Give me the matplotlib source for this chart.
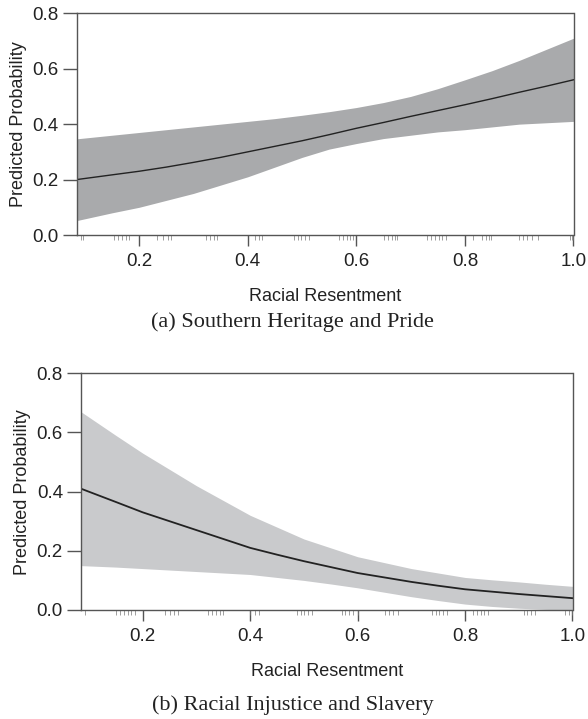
import numpy as np
import matplotlib
matplotlib.use("Agg")
import matplotlib.pyplot as plt
import matplotlib.transforms as mtransforms

# racial resentment grid
grid = [0.085, 0.15, 0.2, 0.25, 0.3, 0.35, 0.4, 0.45, 0.5, 0.55,
        0.6, 0.65, 0.7, 0.75, 0.8, 0.85, 0.9, 0.95, 1.0]

# panel (a) Southern Heritage and Pride
a_fit = [0.20, 0.217, 0.23, 0.245, 0.262, 0.28, 0.30, 0.32, 0.34, 0.362,
         0.385, 0.406, 0.428, 0.449, 0.47, 0.492, 0.515, 0.537, 0.56]
a_upper = [0.347, 0.36, 0.37, 0.38, 0.39, 0.40, 0.41, 0.42, 0.432, 0.445,
           0.46, 0.478, 0.50, 0.528, 0.56, 0.593, 0.63, 0.67, 0.71]
a_lower = [0.052, 0.08, 0.10, 0.125, 0.15, 0.18, 0.21, 0.245, 0.28, 0.31,
           0.33, 0.348, 0.36, 0.372, 0.38, 0.39, 0.40, 0.405, 0.41]
a_rug = [0.092, 0.097, 0.154, 0.161, 0.168, 0.175, 0.182, 0.233, 0.244, 0.254,
         0.258, 0.323, 0.330, 0.337, 0.344, 0.413, 0.420, 0.427, 0.486, 0.492,
         0.499, 0.506, 0.513, 0.568, 0.575, 0.582, 0.589, 0.593, 0.651, 0.658,
         0.665, 0.672, 0.675, 0.731, 0.738, 0.745, 0.752, 0.758, 0.765, 0.814,
         0.831, 0.838, 0.845, 0.848, 0.900, 0.907, 0.914, 0.924, 0.934, 0.993,
         0.997, 1.0]

# panel (b) Racial Injustice and Slavery
b_fit = [0.41, 0.365, 0.33, 0.30, 0.27, 0.24, 0.21, 0.187, 0.165, 0.145,
         0.125, 0.11, 0.095, 0.082, 0.07, 0.062, 0.054, 0.047, 0.04]
b_upper = [0.67, 0.59, 0.53, 0.475, 0.42, 0.37, 0.32, 0.28, 0.24, 0.21,
           0.18, 0.16, 0.14, 0.125, 0.11, 0.102, 0.095, 0.087, 0.08]
b_lower = [0.15, 0.145, 0.14, 0.135, 0.13, 0.125, 0.12, 0.11, 0.10, 0.088,
           0.075, 0.06, 0.045, 0.032, 0.02, 0.012, 0.006, 0.002, 0.0]
b_rug = [0.092, 0.151, 0.158, 0.165, 0.172, 0.179, 0.186, 0.242, 0.250, 0.258,
         0.266, 0.322, 0.329, 0.336, 0.343, 0.350, 0.400, 0.408, 0.417, 0.487,
         0.494, 0.501, 0.508, 0.515, 0.570, 0.577, 0.584, 0.591, 0.600, 0.651,
         0.658, 0.666, 0.675, 0.738, 0.745, 0.752, 0.759, 0.766, 0.815, 0.822,
         0.829, 0.836, 0.843, 0.909, 0.916, 0.923, 0.930, 0.986, 0.993, 1.0]

x_ticks = [0.2, 0.4, 0.6, 0.8, 1.0]
y_ticks = [0.0, 0.2, 0.4, 0.6, 0.8]

plt.rcParams['font.family'] = ['Liberation Sans', 'DejaVu Sans']

W, H = 588, 719
fig = plt.figure(figsize=(W / 100, H / 100), dpi=100)


def px_box(left, top, right, bottom):
    return [left / W, 1 - bottom / H, (right - left) / W, (bottom - top) / H]


def draw_panel(ax, fit, lower, upper, rug, band_color, line_width):
    ax.fill_between(grid, lower, upper, color=band_color, linewidth=0)
    ax.plot(grid, fit, color='#222222', linewidth=line_width)
    trans = mtransforms.blended_transform_factory(ax.transData, ax.transAxes)
    ax.vlines(rug, -0.022, 0, transform=trans, colors='#777777',
              linewidth=0.5, clip_on=False)
    ax.set_xlim(0.085, 1.0)
    ax.set_ylim(0, 0.8)
    ax.set_xticks(x_ticks)
    ax.set_xticklabels(['0.2', '0.4', '0.6', '0.8', '1.0'])
    ax.set_yticks(y_ticks)
    ax.set_yticklabels(['0.0', '0.2', '0.4', '0.6', '0.8'])
    for s in ax.spines.values():
        s.set_color('#555555')
        s.set_linewidth(1.0)
    ax.tick_params(axis='x', direction='out', length=8, width=1.0,
                   color='#555555', labelsize=13.5, pad=5, labelcolor='#222222')
    ax.tick_params(axis='y', direction='out', length=10, width=1.0,
                   color='#555555', labelsize=13.5, pad=3, labelcolor='#222222')
    ax.set_xlabel('Racial Resentment', fontsize=13, color='#222222', labelpad=13)
    ax.set_ylabel('Predicted Probability', fontsize=13, color='#222222', labelpad=4)


ax1 = fig.add_axes(px_box(76.7, 13.3, 573.5, 235))
draw_panel(ax1, a_fit, a_lower, a_upper, a_rug, '#a9aaac', 1.0)

ax2 = fig.add_axes(px_box(81, 373.3, 572.5, 610))
draw_panel(ax2, b_fit, b_lower, b_upper, b_rug, '#c9cacc', 1.3)

fig.text(292 / W, 1 - 322 / H, '(a) Southern Heritage and Pride', ha='center',
         va='center', fontsize=16, family=['Liberation Serif', 'DejaVu Serif'],
         color='#222222')
fig.text(293 / W, 1 - 705 / H, '(b) Racial Injustice and Slavery', ha='center',
         va='center', fontsize=16, family=['Liberation Serif', 'DejaVu Serif'],
         color='#222222')

fig.savefig('out.png', dpi=100)
